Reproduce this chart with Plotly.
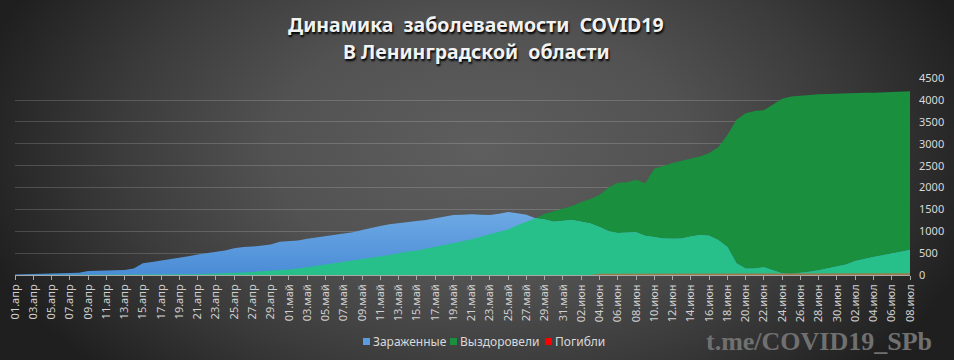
import base64
import datetime as dt
import numpy as np
import plotly.graph_objects as go

# ---------------- data ----------------
month_names = {4: "апр", 5: "май", 6: "июн", 7: "июл"}
start = dt.date(2020, 4, 1)
n_days = 99
dates = [(start + dt.timedelta(days=i)) for i in range(n_days)]
date_labels = [f"{d.day:02d}.{month_names[d.month]}" for d in dates]

infected = [10, 15, 25, 30, 30, 35, 35, 50, 90, 100,
            105, 110, 115, 150, 270, 300, 330, 360, 400, 430,
            470, 500, 520, 560, 610, 640, 650, 670, 700, 760,
            780, 790, 830, 860, 890, 920, 940, 980, 1030, 1080,
            1120, 1160, 1190, 1220, 1235, 1260, 1300, 1340, 1370, 1375,
            1390, 1380, 1370, 1400, 1440, 1410, 1380, 1300, 1270, 1220,
            1240, 1260, 1220, 1180, 1100, 1000, 960, 975, 980, 900,
            860, 835, 830, 835, 880, 915, 900, 800, 640, 270,
            150, 150, 180, 110, 40, 30, 50, 75, 110, 150,
            190, 240, 320, 370, 410, 450, 490, 540, 570]

recovered = [0, 0, 0, 0, 0, 0, 0, 0, 0, 0,
             2, 2, 3, 3, 5, 5, 8, 10, 12, 15,
             20, 25, 30, 35, 45, 55, 70, 80, 95, 110,
             125, 150, 180, 210, 240, 270, 300, 330, 360, 395,
             430, 460, 500, 540, 560, 600, 640, 680, 720, 770,
             820, 870, 930, 990, 1040, 1140, 1220, 1300, 1400, 1460,
             1530, 1580, 1670, 1740, 1830, 2000, 2110, 2120, 2180, 2100,
             2430, 2500, 2560, 2610, 2660, 2710, 2790, 2920, 3200, 3550,
             3700, 3750, 3770, 3900, 4030, 4080, 4100, 4120, 4135, 4140,
             4150, 4160, 4165, 4170, 4170, 4175, 4180, 4200, 4200]

deaths = [0] * 64 + [30, 30, 31, 31, 32, 32, 32, 33, 33, 33,
                     34, 34, 34, 35, 35, 35, 36, 36, 36, 37,
                     37, 37, 38, 38, 38, 39, 39, 39, 40, 40,
                     40, 41, 41, 41, 42]

y_ticks = list(range(0, 4501, 500))
title_lines = ["Динамика  заболеваемости  COVID19", "В Ленинградской  области"]

# ---------------- styling ----------------
W, H = 954, 360
BLUE = "#5b9be0"
TEAL = "#27c08b"
GREEN = "#1a8f3e"
RED = "#ff0000"

x_idx = list(range(n_days))
overlap = np.minimum(np.array(infected), np.array(recovered)).tolist()

fig = go.Figure()
fig.add_trace(go.Scatter(x=x_idx, y=recovered, mode="lines", fill="tozeroy",
                         line=dict(width=0, color=GREEN), fillcolor=GREEN,
                         name="Выздоровели", showlegend=False))
fig.add_trace(go.Scatter(x=x_idx, y=infected, mode="lines", fill="tozeroy",
                         line=dict(width=0, color=BLUE),
                         fillgradient=dict(type="vertical",
                                           colorscale=[[0, "#4a8cd6"], [1, "#6ea9e4"]]),
                         name="Зараженные", showlegend=False))
fig.add_trace(go.Scatter(x=x_idx, y=overlap, mode="lines", fill="tozeroy",
                         line=dict(width=0, color=TEAL), fillcolor=TEAL,
                         name="overlap", showlegend=False, hoverinfo="skip"))
fig.add_trace(go.Scatter(x=x_idx, y=deaths, mode="lines", fill="tozeroy",
                         line=dict(width=0, color="rgba(255,0,0,0.5)"),
                         fillcolor="rgba(255,60,20,0.55)",
                         name="Погибли", showlegend=False))

# background gradient as inline SVG
svg = f'''<svg xmlns="http://www.w3.org/2000/svg" width="{W}" height="{H}" viewBox="0 0 {W} {H}">
<defs><radialGradient id="g" gradientUnits="userSpaceOnUse" cx="480" cy="150" r="520"
 gradientTransform="translate(480,150) scale(1,0.62) translate(-480,-150)">
<stop offset="0" stop-color="#5e5e5e"/><stop offset="0.4" stop-color="#525252"/>
<stop offset="0.7" stop-color="#3b3b3b"/><stop offset="1" stop-color="#1f1f1f"/>
</radialGradient></defs><rect width="{W}" height="{H}" fill="url(#g)"/></svg>'''
src = "data:image/svg+xml;base64," + base64.b64encode(svg.encode()).decode()

x0, x1 = 15 / W, 910 / W
y0, y1 = (H - 275) / H, (H - 78) / H

fig.update_layout(
    width=W, height=H,
    margin=dict(l=0, r=0, t=0, b=0, autoexpand=False),
    paper_bgcolor="#2a2a2a", plot_bgcolor="rgba(0,0,0,0)",
    images=[dict(source=src, xref="paper", yref="paper", x=0, y=1,
                 sizex=1, sizey=1, xanchor="left", yanchor="top",
                 sizing="stretch", layer="below")],
    xaxis=dict(domain=[x0, x1], range=[0, n_days - 1], tickmode="array",
               tickvals=x_idx[::2], ticktext=date_labels[::2], tickangle=-90,
               tickfont=dict(family="Noto Sans", size=11, color="#d0d0d0"),
               showgrid=False, zeroline=False, showline=True, linecolor="#a8a8a8",
               linewidth=1, ticks="outside", ticklen=4, tickcolor="#a8a8a8",
               automargin=False),
    yaxis=dict(domain=[y0, y1], range=[0, 4505], side="right", tickvals=y_ticks,
               tickfont=dict(family="Noto Sans", size=11, color="#d9d9d9"),
               showgrid=True, gridcolor="rgba(255,255,255,0.17)", gridwidth=1,
               zeroline=False, showline=False, ticks="", ticklabelstandoff=8,
               automargin=False),
    showlegend=False,
)

# title as two text lines
for line, ypx in zip(title_lines, [25, 51]):
    fig.add_annotation(text=f"<b>{line}</b>", xref="paper", yref="paper",
                       x=476 / W, y=(H - ypx) / H, xanchor="center", yanchor="middle",
                       showarrow=False,
                       font=dict(family="Noto Sans", size=19.5, color="#f2f2f2",
                                 shadow="1px 2px 2px #000"))

# legend (squares + labels)
legend_items = [("Зараженные", BLUE, 363), ("Выздоровели", GREEN, 450), ("Погибли", RED, 545)]
for label, color, px in legend_items:
    fig.add_shape(type="rect", xref="paper", yref="paper",
                  x0=px / W, x1=(px + 7) / W, y0=(H - 345) / H, y1=(H - 338) / H,
                  fillcolor=color, line=dict(width=0))
    fig.add_annotation(text=label, xref="paper", yref="paper", x=(px + 8) / W,
                       y=(H - 341.5) / H, xanchor="left", yanchor="middle", showarrow=False,
                       font=dict(family="Noto Sans", size=12, color="#d9d9d9"))

fig.add_annotation(text="<b>t.me/COVID19_SPb</b>", xref="paper", yref="paper",
                   x=934 / W, y=(H - 341) / H, xanchor="right", yanchor="middle",
                   showarrow=False,
                   font=dict(family="Liberation Serif", size=26, color="#707070"))

fig.write_html("out.html", config={"displayModeBar": False},
               post_script="document.body.style.margin='0';document.body.style.overflow='hidden';")
